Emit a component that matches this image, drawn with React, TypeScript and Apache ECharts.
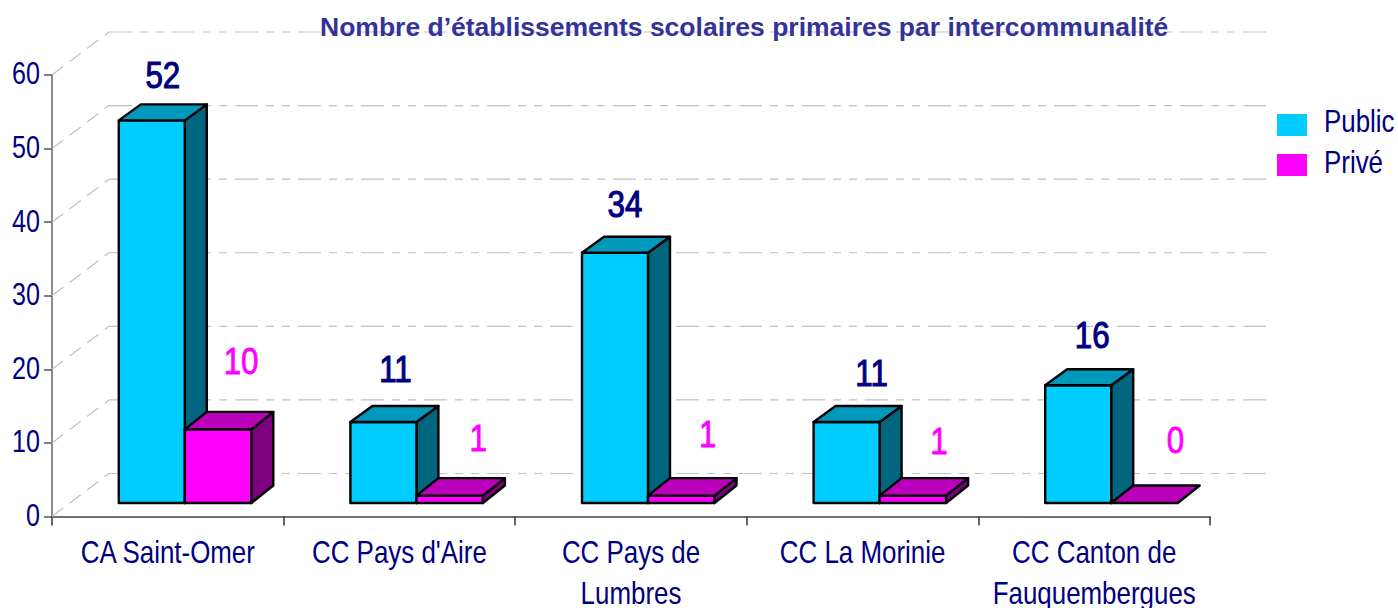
import React, { useEffect, useRef } from "react";
import * as echarts from "echarts";

const categories = ["CA Saint-Omer", "CC Pays d'Aire", "CC Pays de\nLumbres", "CC La Morinie", "CC Canton de\nFauquembergues"];
const publicValues = [52, 11, 34, 11, 16];
const priveValues = [10, 1, 1, 1, 0];
const yTicks = [0, 10, 20, 30, 40, 50, 60];
const legendNames = ["Public", "Privé"];
const title = "Nombre d’établissements scolaires primaires par intercommunalité";

// Layout of the pseudo-3D drawing (pixels)
const WALL_DX = 57, WALL_DY = 43, WALL_RIGHT = 1267;
const FRONT_DX = 17, FRONT_DY = 13.5;
const DEPTH_X = 22, PUB_DEPTH_Y = 16, PRI_DEPTH_Y = 17.5;
const PUB_W = 66, PRI_W = 66.5;
const pubLabelNudge = [[11, -45.5], [12, -52.5], [10, -48.5], [25, -49], [14, -50]];
const priLabelNudge = [[23, -68.5], [28.5, -57], [26.5, -61], [26, -54], [31, -62.5]];
const FONT = '"Liberation Sans", Arial, sans-serif';
const NARROW_SCALE = 0.81;
const VALUE_SCALE = 0.87;
const NAVY = "#000080";

function box(x0: number, x1: number, yTop: number, yBase: number, dy: number, colors: string[]) {
  const st = (fill: string) => ({ fill, stroke: "#000", lineWidth: 2.4, lineJoin: "round" });
  const d = DEPTH_X;
  const out: any[] = [];
  if (yBase - yTop > 0.5) {
    out.push({ type: "polygon", shape: { points: [[x1, yTop], [x1 + d, yTop - dy], [x1 + d, yBase - dy], [x1, yBase]] }, style: st(colors[2]) });
    out.push({ type: "rect", shape: { x: x0, y: yTop, width: x1 - x0, height: yBase - yTop }, style: st(colors[0]) });
  }
  out.push({ type: "polygon", shape: { points: [[x0, yTop], [x0 + d, yTop - dy], [x1 + d, yTop - dy], [x1, yTop]] }, style: st(colors[1]) });
  return out;
}

function renderBars(kind: "pub" | "pri") {
  return (params: any, api: any) => {
    const i = api.value(0), v = api.value(1);
    const base = api.coord([i, 0]);
    const top = api.coord([i, v]);
    const cx = base[0] + FRONT_DX;
    const yBase = base[1] - FRONT_DY;
    const yTop = top[1] - FRONT_DY;
    const isPub = kind === "pub";
    const x0 = isPub ? cx - PUB_W : cx;
    const x1 = isPub ? cx : cx + PRI_W;
    const colors = isPub ? ["#00CCFF", "#0099BB", "#006680"] : ["#FF00FF", "#BB00BB", "#7F007F"];
    const nudge = (isPub ? pubLabelNudge : priLabelNudge)[i];
    const labelColor = isPub ? NAVY : "#FF00FF";
    return {
      type: "group",
      children: [
        ...box(x0, x1, yTop, yBase, isPub ? PUB_DEPTH_Y : PRI_DEPTH_Y, colors),
        {
          type: "text",
          x: (x0 + x1) / 2 + nudge[0],
          y: yTop + nudge[1],
          scaleX: VALUE_SCALE,
          style: {
            x: 0,
            y: 0,
            text: String(v),
            fill: labelColor,
            stroke: labelColor,
            lineWidth: isPub ? 1.1 : 0.8,
            font: `36px ${FONT}`,
            align: "center",
            verticalAlign: "middle",
          },
        },
      ],
    };
  };
}

function renderWall(params: any, api: any) {
  const v = api.value(0);
  const p = api.coord([0, v]);
  const left = params.coordSys.x;
  const gridStyle = { fill: "none", stroke: "#C0C0C0", lineWidth: 1.2, lineDash: [23, 8, 8, 8, 8, 8] };
  return {
    type: "group",
    children: [
      { type: "line", shape: { x1: left, y1: p[1], x2: left + WALL_DX, y2: p[1] - WALL_DY }, style: { ...gridStyle, lineDash: [14, 8] } },
      { type: "line", shape: { x1: left + WALL_DX, y1: p[1] - WALL_DY, x2: WALL_RIGHT, y2: p[1] - WALL_DY }, style: gridStyle },
      {
        type: "text",
        x: left - 12,
        y: p[1] - 1.5,
        scaleX: NARROW_SCALE,
        style: { x: 0, y: 0, text: String(v), fill: NAVY, font: `31px ${FONT}`, align: "right", verticalAlign: "middle" },
      },
    ],
  };
}

function renderCategoryLabel(params: any, api: any) {
  const i = api.value(0);
  const p = api.coord([i, 0]);
  return {
    type: "text",
    x: p[0],
    y: p[1] + 15,
    scaleX: NARROW_SCALE,
    style: { x: 0, y: 0, text: categories[i], fill: NAVY, font: `32px ${FONT}`, lineHeight: 41, align: "center", verticalAlign: "top" },
  };
}

export default function App() {
  const ref = useRef<HTMLDivElement>(null);
  useEffect(() => {
    const chart = echarts.init(ref.current!, undefined, { renderer: "svg" });
    chart.setOption({
      animation: false,
      backgroundColor: "#fff",
      title: {
        text: title,
        left: 315,
        top: 8,
        textStyle: { color: "#333399", fontFamily: "Liberation Sans", fontWeight: "bold", fontSize: 26.5 },
      },
      legend: {
        data: legendNames,
        orient: "vertical",
        left: 1277,
        top: 114,
        padding: 0,
        itemWidth: 30,
        itemHeight: 22,
        itemGap: 18,
        icon: "rect",
        formatter: () => "",
      },
      graphic: legendNames.map((name, i) => ({
        type: "text",
        x: 1324,
        y: 121 + i * 41,
        scaleX: NARROW_SCALE,
        style: { x: 0, y: 0, text: name, fill: NAVY, font: `32px ${FONT}`, align: "left", verticalAlign: "middle" },
      })),
      grid: { left: 52, top: 75, width: 1158, height: 441.5, outerBoundsMode: "none" },
      xAxis: {
        type: "category",
        data: categories,
        axisLine: { show: true, lineStyle: { color: "#444", width: 1.5 } },
        axisTick: { show: true, alignWithLabel: false, length: 9, lineStyle: { color: "#333", width: 1.5 } },
        axisLabel: { show: false },
      },
      yAxis: {
        type: "value",
        min: 0,
        max: 60,
        interval: 10,
        splitLine: { show: false },
        axisLine: { show: true, lineStyle: { color: "#666", width: 1.5 } },
        axisTick: { show: true, length: 8, lineStyle: { color: "#555", width: 1.5 } },
        axisLabel: { show: false },
      },
      series: [
        { name: "wall", type: "custom", renderItem: renderWall, data: yTicks.map((v) => [v]), encode: { y: 0 }, silent: true, z: 1 },
        { name: "labels", type: "custom", renderItem: renderCategoryLabel, data: categories.map((c, i) => [i]), encode: { x: 0 }, silent: true, z: 1 },
        { name: "Public", type: "custom", renderItem: renderBars("pub"), data: publicValues.map((v, i) => [i, v]), encode: { x: 0, y: 1 }, itemStyle: { color: "#00CCFF" }, z: 3 },
        { name: "Privé", type: "custom", renderItem: renderBars("pri"), data: priveValues.map((v, i) => [i, v]), encode: { x: 0, y: 1 }, itemStyle: { color: "#FF00FF" }, z: 4 },
      ],
    });
    return () => chart.dispose();
  }, []);
  return <div ref={ref} style={{ position: "fixed", left: 0, top: 0, width: 1398, height: 608 }} />;
}
